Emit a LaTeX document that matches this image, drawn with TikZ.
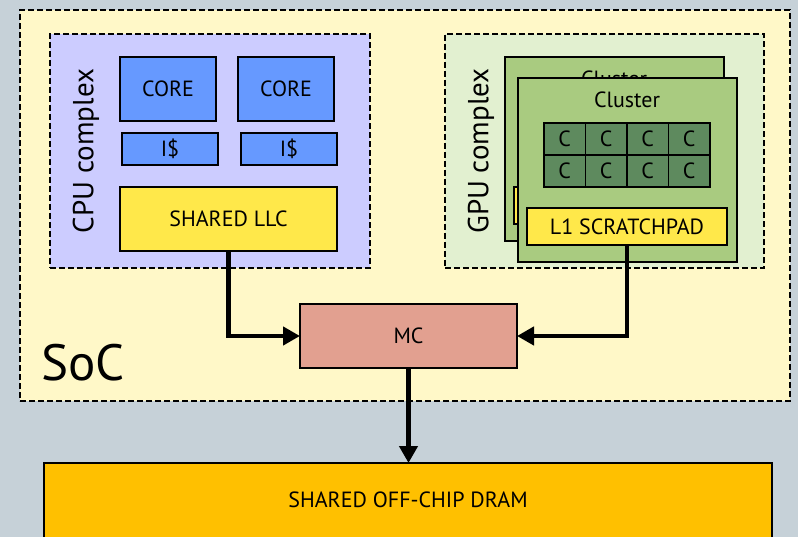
\documentclass[tikz,border=0pt]{standalone}
\usepackage{fontspec}
\setmainfont{PT Sans}
\usetikzlibrary{arrows.meta,calc}
\definecolor{bgc}{HTML}{C6D1D8}
\definecolor{socc}{HTML}{FFF8C8}
\definecolor{cpuc}{HTML}{CCCCFF}
\definecolor{corec}{HTML}{6699FF}
\definecolor{cachec}{HTML}{FFE84A}
\definecolor{gpuc}{HTML}{E2F0D0}
\definecolor{clusc}{HTML}{A9CB80}
\definecolor{cellc}{HTML}{5E8A5E}
\definecolor{mcc}{HTML}{E2A090}
\definecolor{dramc}{HTML}{FFC000}
\tikzset{
  region/.style={draw=black, line width=1.5pt, dash pattern=on 6pt off 3pt,
    inner sep=0pt, outer sep=0pt},
  lbl/.style={font=\fontsize{22}{26}\selectfont},
  blk/.style={draw=black, line width=1.5pt, inner sep=0pt, outer sep=0pt, lbl},
  link/.style={line width=4.5pt, -{Triangle[length=17pt,width=18pt]}},
}
\newcommand{\clusterblock}[3]{%
  % #1 = name prefix, #2 = left, #3 = top of the cluster tile
  \node[blk, fill=clusc, anchor=north west, minimum width=219pt, minimum height=184pt]
    (#1) at (#2,#3) {};
  \node[lbl] (#1lbl) at ($(#2,#3)+(109,22)$) {Cluster};
  \foreach \r in {0,1} {
    \foreach \c in {0,1,2,3} {
      \node[blk, fill=cellc, anchor=north west, minimum width=41.5pt, minimum height=32pt]
        (#1cell\r\c) at ($(#2,#3)+(26+41.5*\c,45+32*\r)$) {C};
    }
  }
  \node[blk, fill=cachec, anchor=north west, minimum width=200pt, minimum height=37pt]
    (#1l1) at ($(#2,#3)+(9,130)$) {L1 SCRATCHPAD};
}
\begin{document}
\begin{tikzpicture}[x=1pt, y=-1pt]
  \useasboundingbox (0,0) rectangle (798,537);
  \clip (0,0) rectangle (798,537);
  \fill[bgc] (0,0) rectangle (798,537);

  % SoC boundary
  \node[region, fill=socc, anchor=north west, minimum width=770pt, minimum height=391pt]
    (soc) at (20,10) {};
  \node[anchor=base west, font=\fontsize{51}{58}\selectfont, inner sep=0pt] (soclbl) at (41,380) {SoC};

  % CPU complex
  \node[region, fill=cpuc, anchor=north west, minimum width=320pt, minimum height=234pt]
    (cpu) at (50,34) {};
  \node[rotate=90, font=\fontsize{29}{32}\selectfont] (cpulbl) at (86,151) {CPU complex};
  \node[blk, fill=corec, anchor=north west, minimum width=96pt, minimum height=64pt] (core1) at (120,57) {CORE};
  \node[blk, fill=corec, anchor=north west, minimum width=96pt, minimum height=64pt] (core2) at (238,57) {CORE};
  \node[blk, fill=corec, anchor=north west, minimum width=96pt, minimum height=32pt] (ic1) at (122,133) {I\$};
  \node[blk, fill=corec, anchor=north west, minimum width=96pt, minimum height=32pt] (ic2) at (241,133) {I\$};
  \node[blk, fill=cachec, anchor=north west, minimum width=217pt, minimum height=64pt] (llc) at (120,187) {SHARED LLC};

  % GPU complex: two stacked cluster tiles
  \node[region, fill=gpuc, anchor=north west, minimum width=319pt, minimum height=234pt]
    (gpu) at (445,34) {};
  \node[rotate=90, font=\fontsize{29}{32}\selectfont] (gpulbl) at (481,151) {GPU complex};
  \clusterblock{clA}{505}{57}
  \clusterblock{clB}{518}{78}

  % Memory controller and DRAM
  \node[blk, fill=mcc, anchor=north west, minimum width=217pt, minimum height=64pt] (mc) at (300,304) {MC};
  \node[blk, fill=dramc, anchor=north west, minimum width=728pt, minimum height=78pt] (dram) at (44,463) {};
  \node[lbl] (dramlbl) at (408,500) {SHARED OFF-CHIP DRAM};

  % Connections
  \draw[link] (llc.south) |- (mc.west);
  \draw[link] (clBl1.south) |- (mc.east);
  \draw[link] (mc.south) -- (mc.south |- dram.north);
\end{tikzpicture}
\end{document}
